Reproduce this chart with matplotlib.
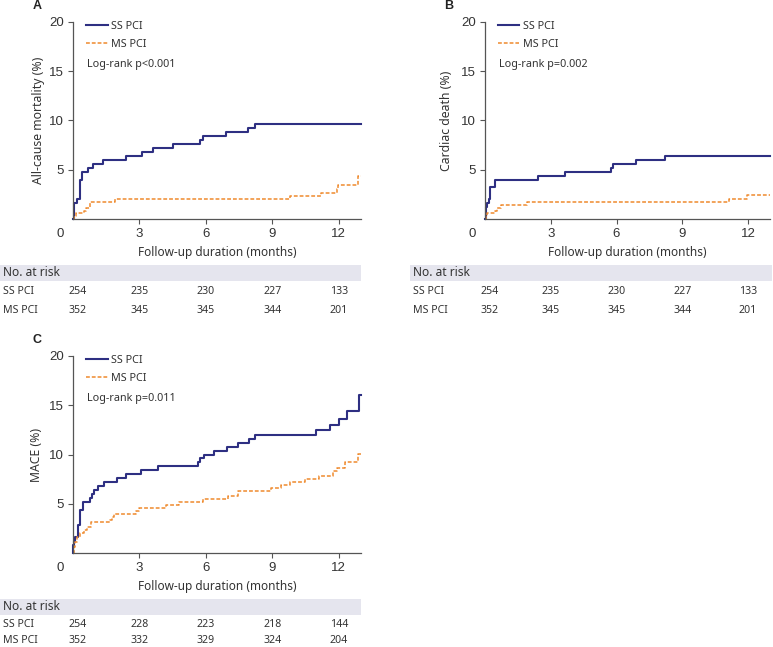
import numpy as np
import matplotlib
matplotlib.use("Agg")
import matplotlib.pyplot as plt
import matplotlib.transforms as mtransforms
from matplotlib.patches import Rectangle

plt.rcParams['font.family'] = ['Noto Sans', 'DejaVu Sans']

# Kaplan-Meier style cumulative incidence (%), step times in months
# Panel A: all-cause mortality
a_ss_t = [0, 0.03, 0.18, 0.3, 0.4, 0.67, 0.9, 1.35, 2.4, 3.1, 3.6, 4.5, 5.75, 5.85, 6.9, 7.9, 8.2]
a_ss_y = [0, 1.6, 2.0, 4.0, 4.8, 5.2, 5.6, 6.0, 6.4, 6.8, 7.2, 7.6, 8.0, 8.4, 8.8, 9.2, 9.6]
a_ms_t = [0, 0.05, 0.15, 0.5, 0.6, 0.75, 1.9, 9.8, 11.2, 11.9, 11.95, 12.85]
a_ms_y = [0, 0.3, 0.6, 0.85, 1.15, 1.7, 2.0, 2.3, 2.6, 3.0, 3.5, 4.4]

# Panel B: cardiac death
b_ss_t = [0, 0.03, 0.1, 0.2, 0.25, 0.45, 2.4, 3.65, 5.75, 5.85, 6.9, 8.2]
b_ss_y = [0, 1.2, 1.6, 2.0, 3.2, 4.0, 4.4, 4.8, 5.2, 5.6, 6.0, 6.4]
b_ms_t = [0, 0.05, 0.1, 0.45, 0.55, 0.75, 1.9, 11.15, 11.95]
b_ms_y = [0, 0.3, 0.6, 0.85, 1.15, 1.45, 1.7, 2.0, 2.4]

# Panel C: MACE
c_ss_t = [0, 0.02, 0.05, 0.1, 0.22, 0.3, 0.45, 0.77, 0.85, 0.97, 1.15, 1.4, 2.0, 2.4, 3.05, 3.85,
          5.65, 5.75, 5.9, 6.35, 6.95, 7.45, 7.95, 8.2, 10.95, 11.6, 12.0, 12.35, 12.9]
c_ss_y = [0, 0.8, 1.2, 1.6, 2.8, 4.4, 5.2, 5.6, 6.0, 6.4, 6.8, 7.2, 7.6, 8.0, 8.4, 8.8,
          9.2, 9.6, 10.0, 10.4, 10.8, 11.2, 11.6, 12.0, 12.5, 13.0, 13.6, 14.4, 16.0]
c_ms_t = [0, 0.03, 0.06, 0.1, 0.2, 0.3, 0.5, 0.65, 0.8, 1.65, 1.75, 1.85, 2.85, 3.0, 4.2, 4.8,
          5.85, 7.0, 7.45, 8.95, 9.4, 9.8, 10.45, 11.1, 11.75, 11.9, 12.3, 12.85]
c_ms_y = [0, 0.3, 0.6, 1.1, 1.6, 2.0, 2.3, 2.6, 3.1, 3.4, 3.7, 4.0, 4.3, 4.6, 4.9, 5.2,
          5.5, 5.8, 6.3, 6.6, 6.95, 7.2, 7.5, 7.85, 8.3, 8.6, 9.2, 10.1]

follow_up_end = 13.0

# Numbers at risk
risk_times = [0, 3, 6, 9, 12]
a_risk_ss = [254, 235, 230, 227, 133]
a_risk_ms = [352, 345, 345, 344, 201]
b_risk_ss = [254, 235, 230, 227, 133]
b_risk_ms = [352, 345, 345, 344, 201]
c_risk_ss = [254, 228, 223, 218, 144]
c_risk_ms = [352, 332, 329, 324, 204]

panel_letters = ["A", "B", "C"]
y_labels = ["All-cause mortality (%)", "Cardiac death (%)", "MACE (%)"]
pvals = ["Log-rank p<0.001", "Log-rank p=0.002", "Log-rank p=0.011"]

BLUE = "#2e2f82"
ORANGE = "#ef8a2e"
TXT = "#333333"
W, H = 773, 647

fig = plt.figure(figsize=(W / 100, H / 100), dpi=100)


def box(left, right, top, bottom):
    return [left / W, 1 - bottom / H, (right - left) / W, (bottom - top) / H]


# axes pixels (left, right, top, bottom), table band, ylabel x, table row offsets
panels = [
    dict(rect=(73, 361, 22, 219), band=(0, 361), ylx=-0.097, letter_xy=(37, 6), rows=(72, 91),
         ss=(a_ss_t, a_ss_y), ms=(a_ms_t, a_ms_y), risk=(a_risk_ss, a_risk_ms)),
    dict(rect=(485, 770, 22, 219), band=(410, 772), ylx=-0.112, letter_xy=(449, 6), rows=(72, 91),
         ss=(b_ss_t, b_ss_y), ms=(b_ms_t, b_ms_y), risk=(b_risk_ss, b_risk_ms)),
    dict(rect=(73, 361, 356, 553), band=(0, 361), ylx=-0.104, letter_xy=(37, 340), rows=(71.5, 87.5),
         ss=(c_ss_t, c_ss_y), ms=(c_ms_t, c_ms_y), risk=(c_risk_ss, c_risk_ms)),
]

for i, p in enumerate(panels):
    l, r, t, b = p["rect"]
    ax = fig.add_axes(box(l, r, t, b))

    ss_t = np.append(p["ss"][0], follow_up_end)
    ss_y = np.append(p["ss"][1], p["ss"][1][-1])
    ms_t = np.append(p["ms"][0], follow_up_end)
    ms_y = np.append(p["ms"][1], p["ms"][1][-1])

    ax.step(ss_t, ss_y, where="post", color=BLUE, lw=1.5, label="SS PCI", clip_on=False)
    ax.step(ms_t, ms_y, where="post", color=ORANGE, lw=1.1, ls=(0, (2.5, 1.3)),
            label="MS PCI", clip_on=False)

    ax.set_xlim(0, 13)
    ax.set_ylim(0, 20)
    ax.set_xticks([3, 6, 9, 12])
    ax.set_yticks([5, 10, 15, 20])
    for s in ["top", "right"]:
        ax.spines[s].set_visible(False)
    for s in ["left", "bottom"]:
        ax.spines[s].set_color("#555555")
        ax.spines[s].set_linewidth(0.9)
    ax.tick_params(colors="#555555", labelcolor=TXT, length=3.5, width=0.8, pad=3)
    for lab in ax.get_xticklabels() + ax.get_yticklabels():
        lab.set_fontfamily("Liberation Sans")
        lab.set_fontsize(9.5)
    ax.annotate("0", xy=(0, 0), xytext=(-9, -6.5), textcoords="offset points",
                ha="center", va="top", fontsize=9.5, family="Liberation Sans", color=TXT)

    ax.set_xlabel("Follow-up duration (months)", fontsize=8.5, color=TXT)
    ax.xaxis.set_label_coords(0.5, -0.135)
    ax.set_ylabel(y_labels[i], fontsize=8.8, color=TXT)
    ax.yaxis.set_label_coords(p["ylx"], 0.5)

    ax.legend(loc="upper left", bbox_to_anchor=(0.045, 1.005), frameon=False, fontsize=7.8,
              handlelength=2.0, handletextpad=0.35, labelspacing=0.65, borderpad=0,
              borderaxespad=0, labelcolor=TXT)
    ax.text(0.048, 0.785, pvals[i], transform=ax.transAxes, fontsize=7.8, color=TXT,
            va="center", ha="left")

    lx, ly = p["letter_xy"]
    fig.text(lx / W, 1 - ly / H, panel_letters[i], fontsize=9, fontweight="bold",
             family="Liberation Sans", ha="center", va="center", color="#222222")

    # Number at risk table
    bl, br = p["band"]
    fig.patches.append(Rectangle((bl / W, 1 - (b + 62) / H), (br - bl) / W, 16 / H,
                                 transform=fig.transFigure, facecolor="#e5e5ee",
                                 edgecolor="none", zorder=0))
    fig.text((bl + 3) / W, 1 - (b + 53.5) / H, "No. at risk", fontsize=8.6, color=TXT,
             ha="left", va="center")
    trans = mtransforms.blended_transform_factory(ax.transData, fig.transFigure)
    for name, counts, dy in zip(["SS PCI", "MS PCI"], p["risk"], p["rows"]):
        fig.text((bl + 3) / W, 1 - (b + dy) / H, name, fontsize=7.6, color=TXT,
                 ha="left", va="center")
        for tt, n in zip(risk_times, counts):
            ax.text(max(tt, 0.2), 1 - (b + dy) / H, str(n), transform=trans, fontsize=7.6,
                    color=TXT, ha="center", va="center", clip_on=False)

fig.savefig("out.png", dpi=100)
